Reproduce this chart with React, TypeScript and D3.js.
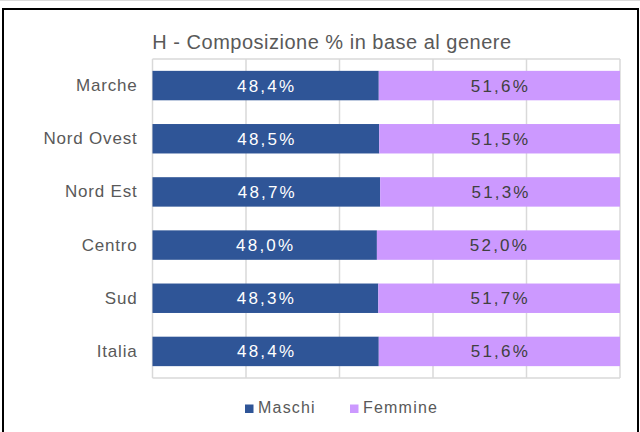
import * as d3 from 'd3'

const categories = ['Marche', 'Nord Ovest', 'Nord Est', 'Centro', 'Sud', 'Italia']
const maschi = [48.4, 48.5, 48.7, 48.0, 48.3, 48.4]
const femmine = [51.6, 51.5, 51.3, 52.0, 51.7, 51.6]
const seriesNames = ['Maschi', 'Femmine']
const xTicks = [0, 20, 40, 60, 80, 100]
const title = 'H - Composizione % in base al genere'

const W = 640
const H = 432
const plot = { left: 152.5, right: 620, top: 59, bottom: 378 }
const colors = ['#2F5597', '#CC99FF']
const labelColors = ['#FFFFFF', '#404040']
const font = '"Liberation Sans", Arial, sans-serif'

const fmt = (v: number) => v.toFixed(1).replace('.', ',') + '%'

export default function App() {
  const x = d3.scaleLinear().domain([0, 100]).range([plot.left, plot.right])
  const y = d3
    .scaleBand<string>()
    .domain(categories)
    .range([plot.top, plot.bottom])
    .paddingInner(0.446)
    .paddingOuter(0.223)

  const rows = categories.map((c, i) => ({ cat: c, vals: [maschi[i], femmine[i]] }))

  return (
    <svg
      width={W}
      height={H}
      style={{ position: 'absolute', left: 0, top: 0, fontFamily: font }}
    >
      <rect x={0} y={0} width={W} height={H} fill='#fff' />
      <line x1={0} x2={W} y1={0.5} y2={0.5} stroke='#DADADA' />
      <rect x={3} y={9} width={635} height={440} fill='#fff' stroke='#000' strokeWidth={2} />

      <text
        x={332}
        y={48.5}
        textAnchor='middle'
        fontSize={20}
        fill='#595959'
        style={{ letterSpacing: '0.5px' }}
      >
        {title}
      </text>

      {/* grid + plot border */}
      {xTicks.map((t) => (
        <line
          key={t}
          x1={x(t)}
          x2={x(t)}
          y1={plot.top}
          y2={plot.bottom}
          stroke='#D9D9D9'
          strokeWidth={1.5}
        />
      ))}
      <line x1={plot.left} x2={plot.right} y1={plot.top} y2={plot.top} stroke='#D9D9D9' strokeWidth={1.5} />
      <line x1={plot.left} x2={plot.right} y1={plot.bottom} y2={plot.bottom} stroke='#D9D9D9' strokeWidth={1.5} />

      {rows.map((r) => {
        const y0 = y(r.cat) as number
        const bh = y.bandwidth()
        let acc = 0
        return (
          <g key={r.cat}>
            <text
              x={137.5}
              y={y0 + bh / 2 + 5.5}
              textAnchor='end'
              fontSize={17}
              fill='#595959'
              style={{ letterSpacing: '0.8px' }}
            >
              {r.cat}
            </text>
            {r.vals.map((v, j) => {
              const x0 = x(acc)
              const x1 = x(acc + v)
              acc += v
              return (
                <g key={j}>
                  <rect x={x0} y={y0} width={x1 - x0} height={bh} fill={colors[j]} />
                  <text
                    x={(x0 + x1) / 2 + 1}
                    y={y0 + bh / 2 + 6}
                    textAnchor='middle'
                    fontSize={17}
                    fill={labelColors[j]}
                    style={{ letterSpacing: '2.2px' }}
                  >
                    {fmt(v)}
                  </text>
                </g>
              )
            })}
          </g>
        )
      })}

      {/* legend */}
      {seriesNames.map((s, i) => {
        const lx = [245, 350][i]
        return (
          <g key={s}>
            <rect x={lx} y={404.5} width={8.5} height={8.5} fill={colors[i]} />
            <text
              x={lx + 13}
              y={413.3}
              fontSize={16}
              fill='#595959'
              style={{ letterSpacing: '1.2px' }}
            >
              {s}
            </text>
          </g>
        )
      })}
    </svg>
  )
}
